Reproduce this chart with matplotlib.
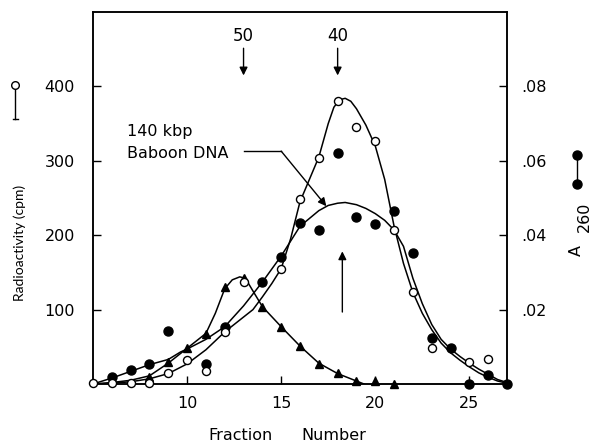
import matplotlib
matplotlib.use('Agg')
import matplotlib.pyplot as plt

plt.rcParams['font.family'] = ['DejaVu Sans']

# measured points
open_x = [5, 6, 7, 8, 9, 10, 11, 12, 13, 15, 16, 17, 18, 19, 20, 21, 22, 23, 25, 26]
open_cpm = [2, 2, 2, 2, 15, 32, 18, 70, 137, 154, 249, 304, 381, 345, 327, 207, 123, 48, 30, 34]

tri_x = [8, 9, 10, 11, 12, 13, 14, 15, 16, 17, 18, 19, 20, 21]
tri_cpm = [10, 30, 48, 67, 130, 142, 104, 77, 51, 27, 15, 4, 4, 0]

fill_x = [6, 7, 8, 9, 11, 12, 14, 15, 16, 17, 18, 19, 20, 21, 22, 23, 24, 25, 26, 27]
fill_a260 = [0.0018, 0.0038, 0.0055, 0.0142, 0.0054, 0.0154, 0.0274, 0.0342, 0.0434,
             0.0414, 0.062, 0.045, 0.043, 0.0466, 0.0352, 0.0124, 0.0096, 0.0, 0.0024, 0.0]

# hand-drawn curves
open_curve_x = [5, 6, 7, 8, 9, 10, 11, 12, 13, 13.5, 14, 14.5, 15, 15.5, 16, 16.5, 17, 17.5,
                17.8, 18.1, 18.4, 18.7, 19, 19.5, 20, 20.5, 21, 21.5, 22, 22.5, 23, 23.5,
                24, 24.5, 25, 25.5, 26, 26.5, 27]
open_curve_y = [0, 1, 3, 7, 14, 27, 46, 70, 90, 100, 117, 135, 155, 195, 245, 275, 305, 350,
                372, 382, 384, 380, 370, 348, 320, 275, 212, 162, 123, 95, 73, 55,
                42, 32, 23, 15, 9, 4, 1]

a260_curve_x = [5, 6, 7, 8, 9, 9.65, 10, 11, 12, 13, 14, 15, 16, 17, 17.5, 18, 18.4, 19,
                19.5, 20, 20.5, 21, 21.5, 22, 22.5, 23, 23.5, 24, 24.5, 25, 25.5, 26, 26.5, 27]
a260_curve_y = [0, 0.0016, 0.0034, 0.0052, 0.0066, 0.0086, 0.0094, 0.012, 0.0154, 0.021,
                0.0274, 0.0344, 0.0424, 0.0466, 0.048, 0.0486, 0.0488, 0.0482,
                0.0472, 0.0458, 0.044, 0.0414, 0.037, 0.0284, 0.0216, 0.016, 0.012,
                0.0094, 0.0074, 0.0056, 0.004, 0.0026, 0.0012, 0.0004]

tri_curve_x = [5, 6, 7, 8, 9, 10, 11, 11.5, 12, 12.4, 12.8, 13.1, 13.5, 14, 15, 16, 17,
               18, 19, 19.4]
tri_curve_y = [0, 2, 5, 11, 28, 48, 68, 95, 128, 140, 144, 142, 125, 104, 77, 51, 28,
               14, 4, 0]

left_ticks = [100, 200, 300, 400]
left_labels = ['100', '200', '300', '400']
right_ticks = [0.02, 0.04, 0.06, 0.08]
right_labels = ['.02', '.04', '.06', '.08']
x_ticks = [10, 15, 20, 25]


def main():
    W, H = 593, 443
    fs = 11.5
    fig = plt.figure(figsize=(W / 100, H / 100), dpi=100)
    ax = fig.add_axes([93 / W, 59 / H, 414 / W, 372 / H])
    ax2 = ax.twinx()

    lw = 1.1
    ax.plot(open_curve_x, open_curve_y, color='black', lw=lw)
    ax.plot(tri_curve_x, tri_curve_y, color='black', lw=lw)
    ax2.plot(a260_curve_x, a260_curve_y, color='black', lw=lw)

    ax.plot(tri_x, tri_cpm, linestyle='none', marker='^', ms=6, color='black', clip_on=False, zorder=4)
    ax2.plot(fill_x, fill_a260, linestyle='none', marker='o', ms=6.5, color='black', clip_on=False, zorder=4)
    ax.plot(open_x, open_cpm, linestyle='none', marker='o', ms=5.8, mfc='white', mec='black',
            mew=1.0, clip_on=False, zorder=5)
    ax.set_zorder(ax2.get_zorder() + 1)
    ax.patch.set_visible(False)

    ax.set_xlim(5, 27)
    ax.set_ylim(0, 500)
    ax2.set_ylim(0, 0.1)

    ax.set_xticks(x_ticks)
    ax.set_yticks(left_ticks)
    ax.set_yticklabels(left_labels)
    ax2.set_yticks(right_ticks)
    ax2.set_yticklabels(right_labels)
    ax.tick_params(direction='in', length=6, width=1.0, labelsize=fs)
    ax.tick_params(axis='y', pad=13)
    ax.tick_params(axis='x', pad=9)
    ax2.tick_params(direction='in', length=6, width=1.0, labelsize=fs, pad=10)
    for a in (ax, ax2):
        for s in a.spines.values():
            s.set_linewidth(1.1)

    # arrows at the top
    for xv, lab in [(13, '50'), (18, '40')]:
        ax.annotate('', xy=(xv, 411), xytext=(xv, 455),
                    arrowprops=dict(arrowstyle='-|>', color='black', lw=1.0, mutation_scale=12))
        ax.text(xv, 468, lab, ha='center', va='center', fontsize=12)
    ax.annotate('', xy=(18.25, 182), xytext=(18.25, 93),
                arrowprops=dict(arrowstyle='-|>', color='black', lw=1.0, mutation_scale=12))

    # callout
    ax.text(6.8, 339, '140 kbp', ha='left', va='center', fontsize=fs)
    ax.text(6.8, 310, 'Baboon DNA', ha='left', va='center', fontsize=fs)
    ax.plot([13.0, 15.0], [313, 313], color='black', lw=1.0)
    ax.annotate('', xy=(17.4, 239), xytext=(15.0, 313),
                arrowprops=dict(arrowstyle='-|>', color='black', lw=1.0, mutation_scale=12,
                                shrinkA=0, shrinkB=0))

    # axis labels
    fig.text(240 / W, 1 - 435 / H, 'Fraction', ha='center', va='center', fontsize=fs)
    fig.text(334 / W, 1 - 435 / H, 'Number', ha='center', va='center', fontsize=fs)
    fig.text(20 / W, 1 - 243 / H, 'Radioactivity (cpm)', rotation=90, ha='center', va='center',
             fontsize=10, family='Lato')
    fig.text(576 / W, 1 - 250 / H, 'A', rotation=90, ha='center', va='center', fontsize=fs)
    fig.text(584 / W, 1 - 217 / H, '260', rotation=90, ha='center', va='center', fontsize=fs)

    # legend keys beside the axis labels
    tf = fig.transFigure
    fig.add_artist(plt.Line2D([15 / W, 15 / W], [1 - 89 / H, 1 - 119 / H], color='black', lw=1.0, transform=tf))
    fig.add_artist(plt.Line2D([12.5 / W, 17.5 / W], [1 - 119 / H, 1 - 119 / H], color='black', lw=1.0, transform=tf))
    fig.add_artist(plt.Line2D([15 / W], [1 - 85 / H], marker='o', ms=5.5, mfc='white', mec='black',
                              transform=tf))
    fig.add_artist(plt.Line2D([577 / W, 577 / W], [1 - 155 / H, 1 - 184 / H], color='black', lw=1.0,
                              marker='o', ms=6.5, transform=tf))

    fig.savefig('out.png', dpi=100)


if __name__ == '__main__':
    main()
